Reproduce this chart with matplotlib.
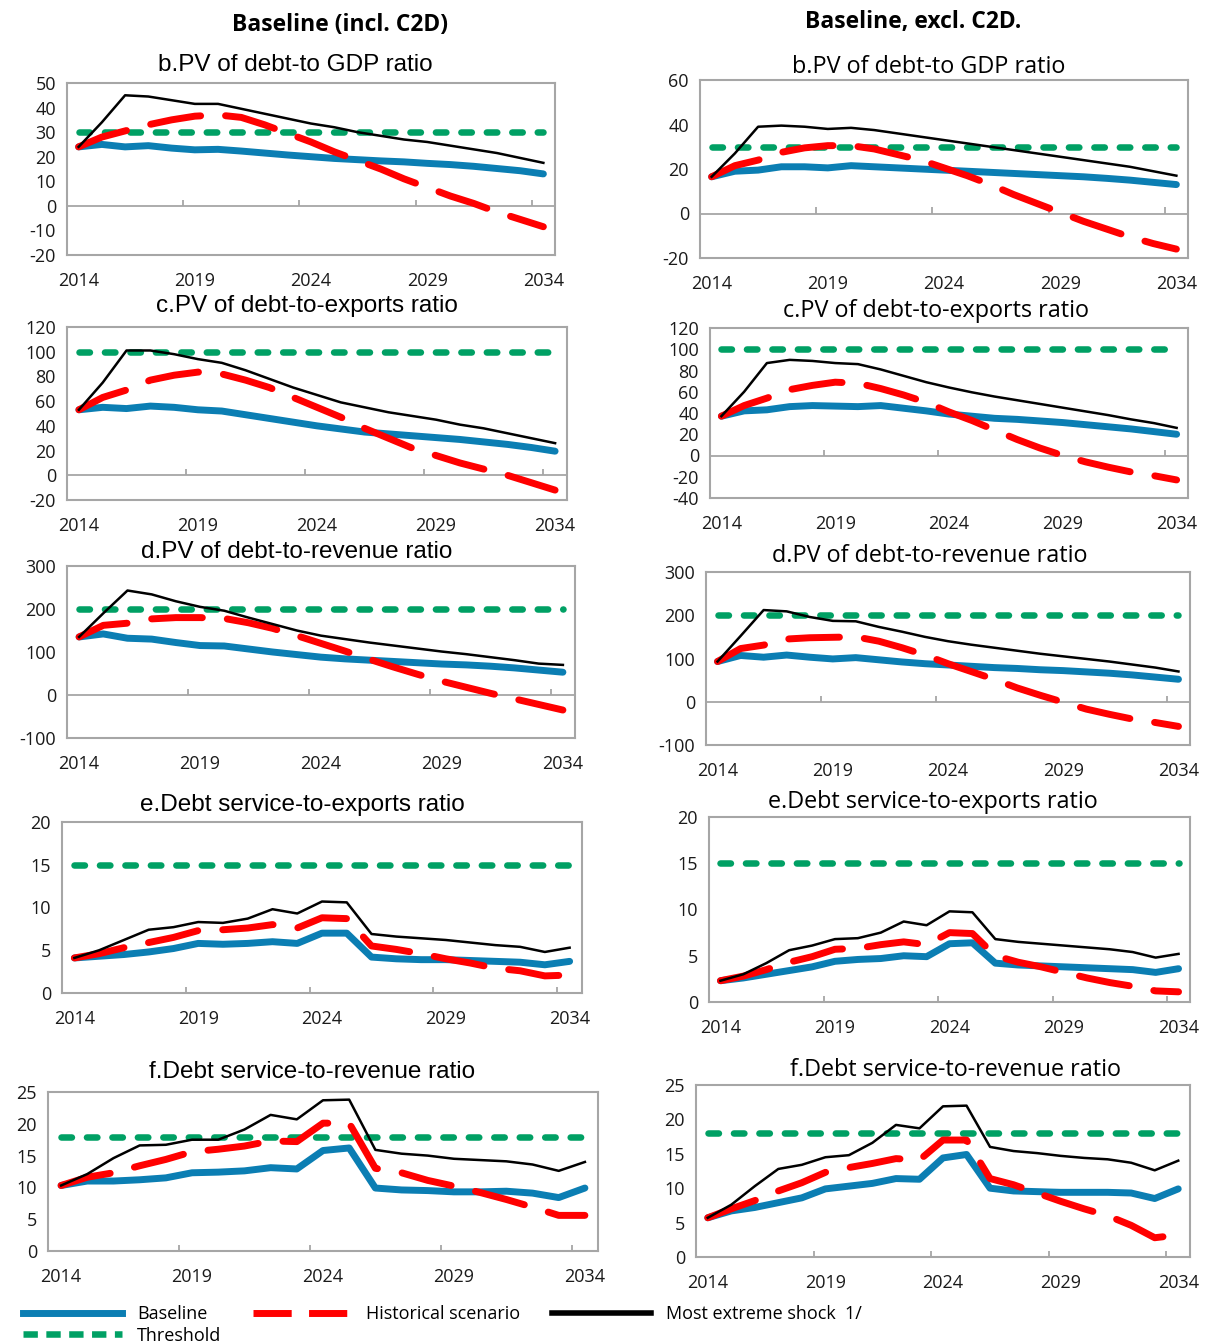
import numpy as np
import matplotlib
matplotlib.use('Agg')
import matplotlib.pyplot as plt
from matplotlib.lines import Line2D

plt.rcParams['axes.unicode_minus'] = False

W, H = 1206, 1344

years = list(range(2014, 2035))
year_labels = ['2014', '2019', '2024', '2029', '2034']

# ---- left column: Baseline (incl. C2D) ----
gdp_inc_base = [24, 25, 24, 24.5, 23.5, 22.8, 23, 22.3, 21.5, 20.7, 20, 19.3, 18.8, 18.3, 17.9, 17.3, 16.8, 16.1, 15.2, 14.3, 13]
gdp_inc_hist = [24, 28, 30.5, 33, 35, 36.5, 37, 36, 33, 29.5, 26, 22, 18.5, 15, 11, 7.5, 4, 1, -2.5, -5.5, -8.5]
gdp_inc_shock = [24, 34, 45, 44.5, 43, 41.5, 41.5, 39.5, 37.5, 35.5, 33.5, 32, 30, 28.5, 27, 26, 24.5, 23, 21.5, 19.5, 17.5]

exp_inc_base = [53, 55, 54, 56, 55, 53, 52, 49, 46, 43, 40, 37.5, 35, 33.5, 32, 30.5, 29, 27, 25, 22.5, 19.5]
exp_inc_hist = [53, 63, 69, 77, 81, 83.5, 82, 77, 71, 63, 55, 47, 38, 30, 22, 16, 10, 5, 0, -6, -12]
exp_inc_shock = [53, 75, 101, 101, 98, 94, 91, 85, 78, 71, 65, 59, 55, 51, 48, 45, 41, 38, 34, 30, 26]

rev_inc_base = [135, 142, 132, 130, 122, 115, 114, 107, 100, 94, 88, 84, 81, 78, 75, 72, 70, 67, 63, 58, 53]
rev_inc_hist = [135, 162, 167, 177, 180, 180, 178, 168, 155, 138, 120, 102, 83, 65, 48, 32, 18, 4, -9, -22, -35]
rev_inc_shock = [135, 190, 243, 234, 218, 205, 196, 180, 165, 150, 138, 130, 122, 115, 108, 101, 95, 88, 81, 73, 70]

dsx_inc_base = [4.1, 4.3, 4.5, 4.8, 5.2, 5.8, 5.7, 5.8, 6.0, 5.8, 7.0, 7.0, 4.2, 4.0, 3.9, 3.9, 3.8, 3.7, 3.6, 3.3, 3.7]
dsx_inc_hist = [4.1, 4.6, 5.3, 5.9, 6.5, 7.3, 7.4, 7.6, 8.0, 7.6, 8.8, 8.7, 5.5, 5.1, 4.6, 4.0, 3.5, 2.9, 2.6, 2.0, 2.1]
dsx_inc_shock = [4.1, 5.0, 6.2, 7.4, 7.7, 8.3, 8.2, 8.7, 9.8, 9.3, 10.7, 10.6, 6.9, 6.6, 6.4, 6.2, 5.9, 5.6, 5.4, 4.8, 5.3]

dsr_inc_base = [10.3, 11.0, 11.0, 11.2, 11.5, 12.3, 12.4, 12.6, 13.1, 12.9, 15.8, 16.2, 9.9, 9.6, 9.5, 9.3, 9.3, 9.4, 9.1, 8.4, 9.9]
dsr_inc_hist = [10.3, 11.6, 12.3, 13.4, 14.4, 15.6, 16.0, 16.5, 17.3, 17.2, 20.1, 20.1, 13.0, 12.3, 11.1, 10.2, 9.2, 8.1, 6.9, 5.6, 5.6]
dsr_inc_shock = [10.3, 12.1, 14.6, 16.6, 16.7, 17.5, 17.5, 19.1, 21.4, 20.7, 23.7, 23.8, 15.9, 15.3, 15.0, 14.5, 14.3, 14.1, 13.6, 12.6, 14.0]

# ---- right column: Baseline, excl. C2D ----
gdp_exc_base = [16.5, 19, 19.5, 21, 21, 20.5, 21.5, 21, 20.5, 20, 19.5, 19, 18.5, 18, 17.5, 17, 16.5, 15.8, 15, 14, 13]
gdp_exc_hist = [16.5, 21.5, 24, 27.5, 29.5, 30.5, 30.5, 29, 26.5, 24, 20.5, 17, 13, 8.5, 4.5, 0.5, -3.5, -7, -10.5, -13.5, -16]
gdp_exc_shock = [16.5, 27, 39, 39.5, 39, 38, 38.5, 37.5, 36, 34.5, 33, 31.5, 30, 28.5, 27, 25.5, 24, 22.5, 21, 19, 17]

exp_exc_base = [37, 42, 43, 46, 47, 46.5, 46, 47, 44.5, 42, 39, 37, 35, 34, 32.5, 31, 29, 27, 25, 22.5, 20]
exp_exc_hist = [37, 47, 54, 62, 66, 69, 68, 63, 57, 50, 41, 33, 24, 15, 7, 0, -6, -11, -15.5, -19, -23]
exp_exc_shock = [37, 60, 87, 90, 89, 87, 86, 81, 75, 69, 64, 59.5, 55.5, 52, 48.5, 45, 41.5, 38, 34, 30.5, 26]

rev_exc_base = [93, 107, 103, 108, 103, 99, 102, 97, 92, 88, 85, 82, 79, 77, 74, 72, 69, 66, 62, 57, 52]
rev_exc_hist = [93, 123, 131, 145, 148, 149, 150, 140, 125, 108, 88, 70, 52, 32, 15, -1, -17, -29, -40, -48, -57]
rev_exc_shock = [93, 152, 212, 209, 196, 187, 186, 173, 162, 150, 140, 132, 125, 118, 111, 105, 99, 93, 86, 79, 70]

dsx_exc_base = [2.3, 2.6, 3.0, 3.4, 3.8, 4.4, 4.6, 4.7, 5.0, 4.9, 6.3, 6.4, 4.2, 4.0, 3.9, 3.8, 3.7, 3.6, 3.5, 3.2, 3.6]
dsx_exc_hist = [2.3, 2.8, 3.5, 4.3, 4.9, 5.7, 5.8, 6.2, 6.5, 6.2, 7.5, 7.4, 5.0, 4.3, 3.8, 3.2, 2.6, 2.1, 1.7, 1.2, 1.1]
dsx_exc_shock = [2.3, 3.0, 4.2, 5.6, 6.1, 6.8, 6.9, 7.5, 8.7, 8.3, 9.8, 9.7, 6.8, 6.5, 6.3, 6.1, 5.9, 5.7, 5.4, 4.8, 5.2]

dsr_exc_base = [5.7, 6.7, 7.2, 7.9, 8.6, 9.9, 10.3, 10.7, 11.4, 11.3, 14.4, 14.9, 10.0, 9.6, 9.5, 9.4, 9.4, 9.4, 9.3, 8.5, 9.9]
dsr_exc_hist = [5.7, 7.0, 8.2, 9.6, 10.8, 12.3, 13.0, 13.6, 14.3, 14.1, 17.0, 17.0, 11.4, 10.5, 9.3, 8.1, 7.0, 6.0, 4.6, 2.8, 3.2]
dsr_exc_shock = [5.7, 7.6, 10.3, 12.8, 13.4, 14.5, 14.8, 16.6, 19.2, 18.7, 21.9, 22.0, 16.0, 15.4, 15.1, 14.7, 14.4, 14.2, 13.7, 12.6, 14.0]

thr_gdp, thr_exp, thr_rev, thr_dsx, thr_dsr = 30, 100, 200, 15, 18

BLUE = '#0B7EB3'
RED = '#FF0000'
GREEN = '#00A064'
GRID = '#A6A6A6'
TICKFONT = 'Open Sans'
RED_DASH = (7.3, 3.6)
GREEN_DASH = (1.6, 2.3)

# (pixel box x0, y0, x1, y1), title, title centre x, title y, ylim, ystep, data
panels = [
    ((67, 83, 555, 255), 'b.PV of debt-to GDP ratio', 295, 65, (-20, 50), 10,
     gdp_inc_base, gdp_inc_hist, gdp_inc_shock, thr_gdp, 'Liberation Sans', 17.5),
    ((67, 327, 567, 500), 'c.PV of debt-to-exports ratio', 307, 306, (-20, 120), 20,
     exp_inc_base, exp_inc_hist, exp_inc_shock, thr_exp, 'Liberation Sans', 17.5),
    ((67, 566, 575, 738), 'd.PV of debt-to-revenue ratio', 297, 552, (-100, 300), 100,
     rev_inc_base, rev_inc_hist, rev_inc_shock, thr_rev, 'Liberation Sans', 17.5),
    ((62, 822, 582, 993), 'e.Debt service-to-exports ratio', 302, 805, (0, 20), 5,
     dsx_inc_base, dsx_inc_hist, dsx_inc_shock, thr_dsx, 'Liberation Sans', 17.5),
    ((48, 1092, 598, 1251), 'f.Debt service-to-revenue ratio', 312, 1072, (0, 25), 5,
     dsr_inc_base, dsr_inc_hist, dsr_inc_shock, thr_dsr, 'Liberation Sans', 17.5),
    ((700, 80, 1188, 258), 'b.PV of debt-to GDP ratio', 929, 67, (-20, 60), 20,
     gdp_exc_base, gdp_exc_hist, gdp_exc_shock, thr_gdp, 'Open Sans', 16.8),
    ((710, 328, 1188, 498), 'c.PV of debt-to-exports ratio', 936, 311, (-40, 120), 20,
     exp_exc_base, exp_exc_hist, exp_exc_shock, thr_exp, 'Open Sans', 16.8),
    ((706, 572, 1190, 745), 'd.PV of debt-to-revenue ratio', 930, 556, (-100, 300), 100,
     rev_exc_base, rev_exc_hist, rev_exc_shock, thr_rev, 'Open Sans', 16.8),
    ((709, 817, 1190, 1002), 'e.Debt service-to-exports ratio', 933, 802, (0, 20), 5,
     dsx_exc_base, dsx_exc_hist, dsx_exc_shock, thr_dsx, 'Open Sans', 16.8),
    ((696, 1085, 1190, 1257), 'f.Debt service-to-revenue ratio', 955, 1070, (0, 25), 5,
     dsr_exc_base, dsr_exc_hist, dsr_exc_shock, thr_dsr, 'Open Sans', 16.8),
]

fig = plt.figure(figsize=(W / 100, H / 100), dpi=100)

x = np.arange(len(years))

for box, title, tx, ty, ylim, ystep, base, hist, shock, thr, tfont, tsize in panels:
    x0, y0, x1, y1 = box
    ax = fig.add_axes([x0 / W, 1 - y1 / H, (x1 - x0) / W, (y1 - y0) / H])
    ax.plot(x, base, color=BLUE, lw=5, solid_capstyle='round', solid_joinstyle='round', zorder=3)
    ax.plot(x, hist, color=RED, lw=5, dashes=RED_DASH, dash_capstyle='round', zorder=4)
    ax.plot(x, shock, color='black', lw=1.8, zorder=5)
    ax.plot(x, [thr] * len(x), color=GREEN, lw=4.7, dashes=GREEN_DASH, dash_capstyle='round', zorder=2)

    ax.set_xlim(-0.5, len(years) - 0.5)
    ax.set_ylim(*ylim)
    ax.set_yticks(np.arange(ylim[0], ylim[1] + 0.1, ystep))
    ax.set_xticks([0, 5, 10, 15, 20])
    ax.set_xticklabels(year_labels)
    ax.tick_params(axis='both', length=0, labelsize=13, colors='#1a1a1a')
    ax.tick_params(axis='x', pad=12)
    ax.tick_params(axis='y', pad=8)
    for lab in ax.get_xticklabels() + ax.get_yticklabels():
        lab.set_fontfamily(TICKFONT)
    for sp in ax.spines.values():
        sp.set_color(GRID)
        sp.set_linewidth(1.5)

    # category axis line at zero with tick marks between categories
    if ylim[0] < 0:
        ax.axhline(0, color=GRID, lw=1.3, zorder=1)
    tick_h = (ylim[1] - ylim[0]) * 0.035
    ax.vlines([4.5, 9.5, 14.5, 19.5], 0, tick_h, color=GRID, lw=1.3, zorder=1)

    fig.text(tx / W, 1 - ty / H, title, ha='center', va='center', fontsize=tsize, family=tfont)

fig.text(340 / W, 1 - 25 / H, 'Baseline (incl. C2D)', ha='center', va='center',
         fontsize=16.5, fontweight='bold', family='Open Sans')
fig.text(913 / W, 1 - 22 / H, 'Baseline, excl. C2D.', ha='center', va='center',
         fontsize=16.5, fontweight='bold', family='Open Sans')

handles = [
    Line2D([], [], color=BLUE, lw=5),
    Line2D([], [], color=GREEN, lw=4.7, dashes=(2.2, 1.3), dash_capstyle='butt'),
    Line2D([], [], color=RED, lw=5, dashes=(5.5, 2.5), dash_capstyle='butt'),
    Line2D([], [], color='black', lw=4),
]
labels = ['Baseline', 'Threshold', 'Historical scenario', 'Most extreme shock  1/']
leg = fig.legend(handles, labels, ncol=3, loc='upper left', bbox_to_anchor=(14 / W, 1 - 1296 / H),
                 frameon=False, handlelength=5.5, handletextpad=0.8, columnspacing=1.75,
                 labelspacing=0.2, borderpad=0.0, prop={'family': 'Open Sans', 'size': 13})

fig.savefig('out.png', dpi=100)
